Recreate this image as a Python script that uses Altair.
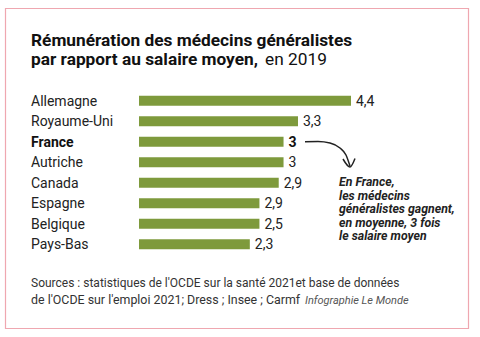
import altair as alt
import pandas as pd

countries = ["Allemagne", "Royaume-Uni", "France", "Autriche", "Canada", "Espagne", "Belgique", "Pays-Bas"]
bar_values = [4.4, 3.3, 3.0, 3.0, 2.9, 2.5, 2.5, 2.3]
value_labels = ["4,4", "3,3", "3", "3", "2,9", "2,9", "2,5", "2,3"]
highlight = [False, False, True, False, False, False, False, False]

title_line1 = "Rémunération des médecins généralistes"
title_line2_bold = "par rapport au salaire moyen,"
title_line2_rest = "en 2019"
source_lines = [
    "Sources : statistiques de l'OCDE sur la santé 2021et base de données",
    "de l'OCDE sur l'emploi 2021; Dress ; Insee ; Carmf",
]
credit = "Infographie Le Monde"
note_lines = ["En France,", "les médecins", "généralistes gagnent,", "en moyenne, 3 fois", "le salaire moyen"]

# arrow annotation path (pixel space)
arrow_x = [305, 318, 330, 340, 346, 350]
arrow_y = [141.7, 141.5, 143, 148, 155, 166]
head_x = [343, 350, 355]
head_y = [159, 167, 158.5]

FONT = "Roboto"
GREEN = "#7e9a3c"
TXT = "#222222"

df = pd.DataFrame({
    "pays": countries,
    "val": bar_values,
    "lab": value_labels,
    "hl": highlight,
})

xs = alt.Scale(domain=[0, 4.4], range=[139, 351])
ys = alt.Scale(domain=countries, range=[90.45, 254.45], paddingInner=0.51, paddingOuter=0.255)
X = alt.X("val:Q", scale=xs, axis=None)
Y = alt.Y("pays:N", scale=ys, axis=None, sort=countries)

base = alt.Chart(df)

bars = base.mark_bar(color=GREEN, cornerRadius=0).encode(x=alt.X("val:Q", scale=xs, axis=None), x2=alt.datum(0), y=Y)

names_norm = alt.Chart(df[~df["hl"]]).mark_text(align="left", baseline="middle", font=FONT, fontSize=14, color=TXT, dy=1).encode(
    x=alt.value(31), y=Y, text="pays:N")
names_bold = alt.Chart(df[df["hl"]]).mark_text(align="left", baseline="middle", font=FONT, fontSize=14, fontWeight="bold", color="#111111", dy=1).encode(
    x=alt.value(31), y=Y, text="pays:N")

vals_norm = alt.Chart(df[~df["hl"]]).mark_text(align="left", baseline="middle", font=FONT, fontSize=14, color=TXT, dx=5, dy=1).encode(
    x=X, y=Y, text="lab:N")
vals_bold = alt.Chart(df[df["hl"]]).mark_text(align="left", baseline="middle", font=FONT, fontSize=14, fontWeight="bold", color="#111111", dx=5, dy=1).encode(
    x=X, y=Y, text="lab:N")

def txt(s, x, y, **kw):
    return alt.Chart(pd.DataFrame({"t": [s]})).mark_text(align="left", baseline="alphabetic", font=FONT, **kw).encode(
        x=alt.value(x), y=alt.value(y), text="t:N")

t1 = txt(title_line1, 31, 45.7, fontSize=17.3, fontWeight="bold", color="#111111")
t2 = txt(title_line2_bold, 31, 65.3, fontSize=17.3, fontWeight="bold", color="#111111")
t3 = txt(title_line2_rest, 265, 65.3, fontSize=17.3, color="#111111")

s1 = txt(source_lines[0], 31, 286.7, fontSize=12, color="#333333")
s2 = txt(source_lines[1], 31, 304.3, fontSize=12.4, color="#333333")
s3 = txt(credit, 305, 304.3, fontSize=11, fontStyle="italic", color="#555555")

note_layers = [
    txt(line, 339, 186 + 13.5 * i, fontSize=12.3, fontWeight="bold", fontStyle="italic", color="#222222")
    for i, line in enumerate(note_lines)
]

px = alt.Scale(domain=[0, 480], range=[0, 480])
py = alt.Scale(domain=[0, 337], range=[0, 337])
arrow_df = pd.DataFrame({"x": arrow_x + head_x, "y": arrow_y + head_y,
                         "g": ["a"] * len(arrow_x) + ["h"] * len(head_x),
                         "o": list(range(len(arrow_x))) + list(range(len(head_x)))})
arrow = alt.Chart(arrow_df).mark_line(color="#222222", strokeWidth=1.5, interpolate="monotone").encode(
    x=alt.X("x:Q", scale=px, axis=None), y=alt.Y("y:Q", scale=py, axis=None), detail="g:N", order="o:Q")

frame = alt.Chart(pd.DataFrame({"a": [0]})).mark_rect(fill=None, stroke="#efa7b0", strokeWidth=1.2).encode(
    x=alt.value(5.5), x2=alt.value(468.5), y=alt.value(8.5), y2=alt.value(328.5))

main = alt.layer(bars, names_norm, names_bold, vals_norm, vals_bold)
chart = alt.layer(frame, main, arrow, t1, t2, t3, s1, s2, s3, *note_layers).resolve_scale(
    x="independent", y="independent").properties(
    width=480, height=337, autosize=alt.AutoSizeParams(type="none"), padding=0,
    background="white").configure_view(stroke=None)

chart.save("out.html", embed_options={"renderer": "svg", "actions": False})
